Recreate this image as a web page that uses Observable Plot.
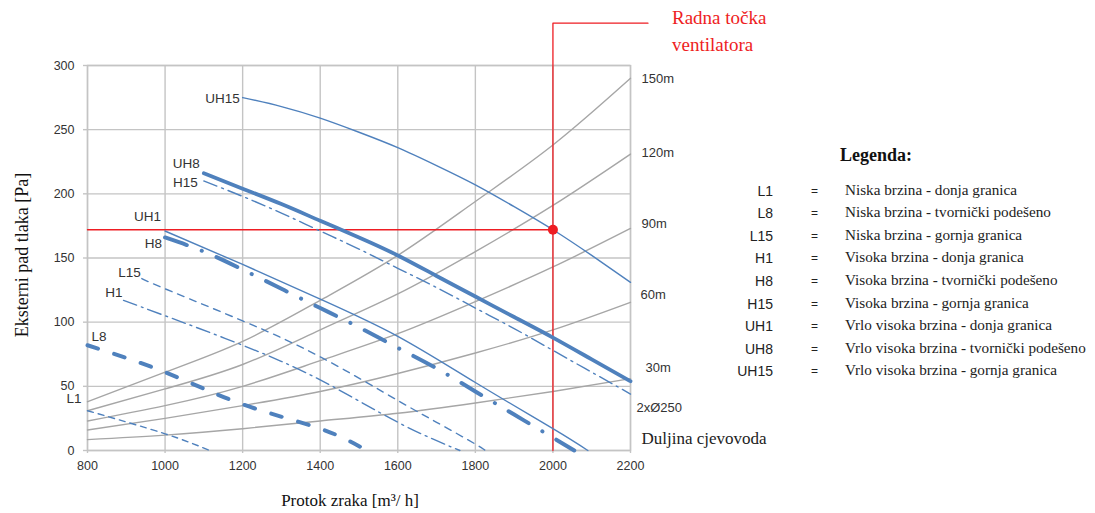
<!DOCTYPE html>
<html>
<head>
<meta charset="utf-8">
<script src="https://cdn.jsdelivr.net/npm/d3@7"></script>
<script src="https://cdn.jsdelivr.net/npm/@observablehq/plot@0.6"></script>
<style>
  body { margin: 0; background: #fff; }
  #wrap { position: relative; width: 1095px; height: 513px; overflow: hidden; background: #fff; }
  #callout { position: absolute; left: 672px; top: 4px; color: #ee1d23; font-family: "Liberation Serif", "Times New Roman", serif; font-size: 19px; line-height: 27px; white-space: nowrap; }
  .lg { position: absolute; white-space: nowrap; line-height: 20px; }
  .lg-title { font-family: "Liberation Serif", serif; font-weight: bold; font-size: 18px; color: #111; }
  .lg-code { font-family: "Liberation Sans", Arial, sans-serif; font-size: 14px; color: #222; text-align: right; width: 60px; }
  .lg-eq { font-family: "Liberation Sans", Arial, sans-serif; font-size: 12px; color: #222; }
  .lg-desc { font-family: "Liberation Serif", serif; font-size: 15.2px; color: #222; }
</style>
</head>
<body>
<div id="wrap">
  <div id="chart"></div>
  <div id="callout">Radna točka<br>ventilatora</div>
  <div id="legend"></div>
</div>
<script>
// ---- axis ticks ----
const xTicks = [800, 1000, 1200, 1400, 1600, 1800, 2000, 2200];
const yTicks = [0, 50, 100, 150, 200, 250, 300];

// ---- duct (system) curves, values read at each flow grid point ----
const flowGrid = [800, 1000, 1200, 1400, 1600, 1800, 2000, 2200];
const duct150 = [38, 61, 85, 117, 152, 194, 238, 290];
const duct120 = [31, 48, 67, 94, 122, 155, 191, 231];
const duct90  = [23, 35, 50, 70, 91, 116, 143, 173];
const duct60  = [16, 25, 35, 46, 60, 76, 94, 115.5];
const duct30  = [8.5, 12, 17, 23, 29, 37, 46, 56];
const ductNames = ["150m", "120m", "90m", "60m", "30m"];
const ductDiameter = "2xØ250";
const ductTitle = "Duljina cjevovoda";

// ---- fan curves [flow, pressure] ----
const L1   = [[800, 31], [1000, 13], [1115, 0]];
const L8   = [[800, 82], [1000, 61], [1200, 36], [1400, 17], [1520, 0]];
const L15  = [[940, 134], [1000, 126], [1200, 101], [1400, 73], [1600, 39], [1700, 22], [1800, 5], [1825, 0]];
const H1   = [[893, 117], [1000, 105], [1200, 82], [1400, 55], [1600, 22], [1760, 0]];
const H8   = [[1000, 166], [1100, 155], [1200, 141], [1300, 126], [1400, 111], [1500, 96], [1600, 80], [1700, 64], [1800, 46], [1900, 28], [2000, 10], [2055, 0]];
const H15  = [[1100, 210], [1200, 198], [1300, 185], [1400, 171], [1500, 157], [1600, 142], [1700, 127], [1800, 111], [1900, 95], [2000, 78], [2100, 61], [2200, 44]];
const UH1  = [[1000, 171], [1200, 145], [1400, 118], [1600, 89], [1800, 53], [2000, 17], [2090, 0]];
const UH8  = [[1100, 216], [1200, 204], [1300, 192], [1400, 179], [1500, 166], [1600, 152], [1700, 136], [1800, 120], [1900, 104], [2000, 88], [2100, 71], [2200, 54]];
const UH15 = [[1200, 275], [1300, 268], [1400, 259], [1500, 248], [1600, 236], [1700, 222], [1800, 207], [1900, 190], [2000, 172], [2100, 152], [2200, 131]];

// ---- operating point and callout ----
const workFlow = 2000;
const workPressure = 172;
const calloutLevel = 333;
const calloutEnd = 2245;

// ---- legend ----
const legendCodes = ["L1", "L8", "L15", "H1", "H8", "H15", "UH1", "UH8", "UH15"];
const legendTexts = [
  "Niska brzina - donja granica",
  "Niska brzina - tvornički podešeno",
  "Niska brzina - gornja granica",
  "Visoka brzina - donja granica",
  "Visoka brzina - tvornički podešeno",
  "Visoka brzina - gornja granica",
  "Vrlo visoka brzina - donja granica",
  "Vrlo visoka brzina - tvornički podešeno",
  "Vrlo visoka brzina - gornja granica"
];

// ---- styles ----
const BLUE = "#4f81bd", GRAY = "#a6a6a6", GRID = "#c4c4c4", RED = "#ee1d23";
const SANS = "Liberation Sans, Arial, sans-serif";
const SERIF = "Liberation Serif, Times New Roman, serif";
const fanSeries = { L1, L8, L15, H1, H8, H15, UH1, UH8, UH15 };
const fanStyle = {
  L1:   { w: 1.4, dash: "6,5",            label: [-6, -12, "end"] },
  L8:   { w: 4,   dash: "11,17", cap: "round", label: [4, -9, "start"] },
  L15:  { w: 1.4, dash: "7,6",            label: [-1, -6, "end"] },
  H1:   { w: 1.4, dash: "14,5,2,5",       label: [-1, -8, "end"] },
  H8:   { w: 4,   dash: "23,16,0.1,16", cap: "round", label: [-3, 6, "end"] },
  H15:  { w: 1.4, dash: "14,5,2,5",       label: [-6, 2, "end"] },
  UH1:  { w: 1.4, dash: null,             label: [-4, -14, "end"] },
  UH8:  { w: 3.8, dash: null, cap: "round", label: [-4, -10, "end"] },
  UH15: { w: 1.4, dash: null,             label: [-3, 1, "end"] }
};
const ductSeries = [duct150, duct120, duct90, duct60, duct30];
const ductLabelDy = [0, -1, -5, -7, -11];
const ductLabelDx = [11, 11, 11, 10, 15];

const marks = [
  Plot.gridX(xTicks, { stroke: GRID, strokeOpacity: 1, strokeWidth: 1.4 }),
  Plot.gridY(yTicks, { stroke: GRID, strokeOpacity: 1, strokeWidth: 1.4 }),
  Plot.frame({ stroke: GRID, strokeWidth: 1.4 }),
  Plot.axisX(xTicks, { tickSize: 3, tickPadding: 8, label: null, fontSize: 12.5, stroke: GRID, strokeWidth: 1.4, fill: "#333", tickFormat: d => String(d) }),
  Plot.axisY(yTicks, { tickSize: 4, tickPadding: 9, label: null, fontSize: 12.5, stroke: GRID, strokeWidth: 1.4, fill: "#333", tickFormat: d => String(d) })
];

// duct curves + labels
ductSeries.forEach((vals, i) => {
  const data = flowGrid.map((f, j) => ({ flow: f, p: vals[j] }));
  marks.push(Plot.line(data, { x: "flow", y: "p", stroke: GRAY, strokeWidth: 1.4, curve: "natural" }));
  marks.push(Plot.text([data[data.length - 1]], {
    x: "flow", y: "p", text: () => ductNames[i], dx: ductLabelDx[i], dy: ductLabelDy[i],
    textAnchor: "start", lineAnchor: "middle", fontFamily: SANS, fontSize: 13, fill: "#333"
  }));
});
marks.push(Plot.text([ductDiameter], { frameAnchor: "bottom-right", dx: 6, dy: -43, textAnchor: "start", lineAnchor: "middle", fontFamily: SANS, fontSize: 13, fill: "#333" }));
marks.push(Plot.text([ductTitle], { frameAnchor: "bottom-right", dx: 11, dy: -12, textAnchor: "start", lineAnchor: "middle", fontFamily: SERIF, fontSize: 17, fill: "#222" }));

// red operating point lines
marks.push(Plot.line([{ flow: xTicks[0], p: workPressure }, { flow: workFlow, p: workPressure }], { x: "flow", y: "p", stroke: RED, strokeWidth: 1.3 }));
marks.push(Plot.line([{ flow: workFlow, p: 0 }, { flow: workFlow, p: calloutLevel }, { flow: calloutEnd, p: calloutLevel }], { x: "flow", y: "p", stroke: RED, strokeWidth: 1.3 }));

// fan curves + labels
for (const name of Object.keys(fanSeries)) {
  const data = fanSeries[name].map(([f, p]) => ({ flow: f, p }));
  const s = fanStyle[name];
  const opts = { x: "flow", y: "p", stroke: BLUE, strokeWidth: s.w, curve: "natural" };
  if (s.dash) opts.strokeDasharray = s.dash;
  if (s.cap) opts.strokeLinecap = s.cap;
  marks.push(Plot.line(data, opts));
  const [dx, dy, anchor] = s.label;
  marks.push(Plot.text([data[0]], {
    x: "flow", y: "p", text: () => name, dx, dy, textAnchor: anchor, lineAnchor: "middle",
    fontFamily: SANS, fontSize: 13.5, fill: "#333"
  }));
}

marks.push(Plot.dot([{ flow: workFlow, p: workPressure }], { x: "flow", y: "p", r: 5, fill: RED, stroke: "none" }));

// axis titles
marks.push(Plot.text(["Eksterni pad tlaka [Pa]"], { frameAnchor: "left", dx: -65, dy: -3, rotate: -90, textAnchor: "middle", lineAnchor: "middle", fontFamily: SERIF, fontSize: 18, fill: "#111" }));
marks.push(Plot.text(["Protok zraka [m³/ h]"], { frameAnchor: "bottom", dx: -9, dy: 50, textAnchor: "middle", lineAnchor: "middle", fontFamily: SERIF, fontSize: 17, fill: "#111" }));

const chart = Plot.plot({
  width: 1095,
  height: 513,
  marginLeft: 87,
  marginRight: 465,
  marginTop: 65,
  marginBottom: 63,
  x: { domain: [800, 2200] },
  y: { domain: [0, 300] },
  style: { fontFamily: SANS, fontSize: "12.5px", color: "#333", background: "transparent", overflow: "visible" },
  marks
});
document.getElementById("chart").appendChild(chart);

// legend (HTML)
const lg = document.getElementById("legend");
const title = document.createElement("div");
title.className = "lg lg-title";
title.style.left = "840px"; title.style.top = "145px";
title.textContent = "Legenda:";
lg.appendChild(title);
legendCodes.forEach((c, i) => {
  const cy = 190.5 + i * 22.6 - 10;
  const code = document.createElement("div");
  code.className = "lg lg-code"; code.style.left = "713px"; code.style.top = cy + "px"; code.textContent = c;
  const eq = document.createElement("div");
  eq.className = "lg lg-eq"; eq.style.left = "811px"; eq.style.top = cy + "px"; eq.textContent = "=";
  const desc = document.createElement("div");
  desc.className = "lg lg-desc"; desc.style.left = "845px"; desc.style.top = (cy - 1) + "px"; desc.textContent = legendTexts[i];
  lg.appendChild(code); lg.appendChild(eq); lg.appendChild(desc);
});
</script>
</body>
</html>
